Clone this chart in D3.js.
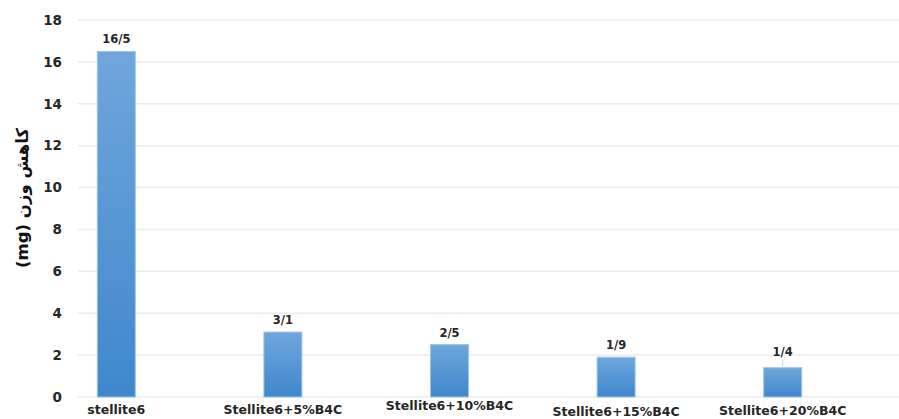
<!DOCTYPE html>
<html lang="en">
<head>
<meta charset="utf-8">
<title>Weight loss chart</title>
<script src="https://d3js.org/d3.v7.min.js"></script>
<style>
  body { margin: 0; background: #fff; }
</style>
</head>
<body>
<script type="text/javascript">

  // data
  var categories = ["stellite6", "Stellite6+5%B4C", "Stellite6+10%B4C", "Stellite6+15%B4C", "Stellite6+20%B4C"];
  var values = [16.5, 3.1, 2.5, 1.9, 1.4];
  var yTicks = [0, 2, 4, 6, 8, 10, 12, 14, 16, 18];
  var yTitle = "کاهش وزن (mg)";

  // small vertical nudges of the category labels, as in the original
  var labelShift = [0, 0, -4, 2, 1];

  var w = 899, h = 419;
  var padTop = 20, padBottom = 397, padLeft = 78;
  var font = "'DejaVu Sans', sans-serif";

  var x_scale = d3.scaleBand().domain(categories).range([33, 866]).paddingInner(0.772).paddingOuter(0.386);
  var y_scale = d3.scaleLinear().domain([0, 18]).range([padBottom, padTop]);

  var svg = d3.select("body").append("svg").attr("width", w).attr("height", h);
  svg.append("rect").attr("width", w).attr("height", h).attr("fill", "white");

  var defs = svg.append("defs");
  var grad = defs.append("linearGradient").attr("id", "barGrad")
    .attr("x1", 0).attr("y1", 0).attr("x2", 0).attr("y2", 1);
  grad.append("stop").attr("offset", "0%").attr("stop-color", "#70a6dc");
  grad.append("stop").attr("offset", "100%").attr("stop-color", "#3f87cd");

  // gridlines
  svg.append("g").selectAll("line").data(yTicks).enter().append("line")
    .attr("x1", padLeft).attr("x2", w)
    .attr("y1", function(d) { return y_scale(d); })
    .attr("y2", function(d) { return y_scale(d); })
    .attr("stroke", "#ececec").attr("stroke-width", 1.5);

  // y axis tick labels
  var y_axis = d3.axisLeft(y_scale).tickValues(yTicks).tickSize(0).tickPadding(0);
  var gy = svg.append("g").attr("transform", "translate(62,0)").call(y_axis);
  gy.select(".domain").remove();
  gy.selectAll("text")
    .attr("font-family", font)
    .attr("font-weight", "bold").attr("font-size", 13.5).attr("fill", "#262626");

  // y title
  svg.append("text")
    .attr("transform", "translate(28,198) rotate(-90)")
    .attr("text-anchor", "middle")
    .attr("direction", "rtl")
    .attr("font-family", font)
    .attr("font-weight", "bold").attr("font-size", 16.5).attr("fill", "#111")
    .text(yTitle);

  // bars
  svg.append("g").selectAll("rect").data(values).enter().append("rect")
    .attr("x", function(d, i) { return x_scale(categories[i]); })
    .attr("y", function(d) { return y_scale(d); })
    .attr("width", x_scale.bandwidth())
    .attr("height", function(d) { return padBottom - y_scale(d); })
    .attr("fill", "url(#barGrad)")
    .attr("stroke", "#9cc3ea").attr("stroke-width", 1);

  // value labels
  svg.append("g").selectAll("text").data(values).enter().append("text")
    .attr("x", function(d, i) { return x_scale(categories[i]) + x_scale.bandwidth() / 2; })
    .attr("y", function(d, i) { return y_scale(d) - (i == 4 ? 12 : 8); })
    .attr("text-anchor", "middle")
    .attr("font-family", font)
    .attr("font-weight", "bold").attr("font-size", 11.5).attr("fill", "#262626")
    .text(function(d) { return String(d).replace(".", "/"); });

  // leader line on last label
  var last = values.length - 1;
  svg.append("line")
    .attr("x1", x_scale(categories[last]) + x_scale.bandwidth() / 2)
    .attr("x2", x_scale(categories[last]) + x_scale.bandwidth() / 2)
    .attr("y1", y_scale(values[last]) - 9).attr("y2", y_scale(values[last]))
    .attr("stroke", "#c8d6e6").attr("stroke-width", 1);

  // category labels
  svg.append("g").selectAll("text").data(categories).enter().append("text")
    .attr("x", function(d) { return x_scale(d) + x_scale.bandwidth() / 2; })
    .attr("y", function(d, i) { return 414 + labelShift[i]; })
    .attr("text-anchor", "middle")
    .attr("font-family", font)
    .attr("font-weight", "bold").attr("font-size", 12.5).attr("fill", "#262626")
    .text(function(d) { return d; });

</script>
</body>
</html>
